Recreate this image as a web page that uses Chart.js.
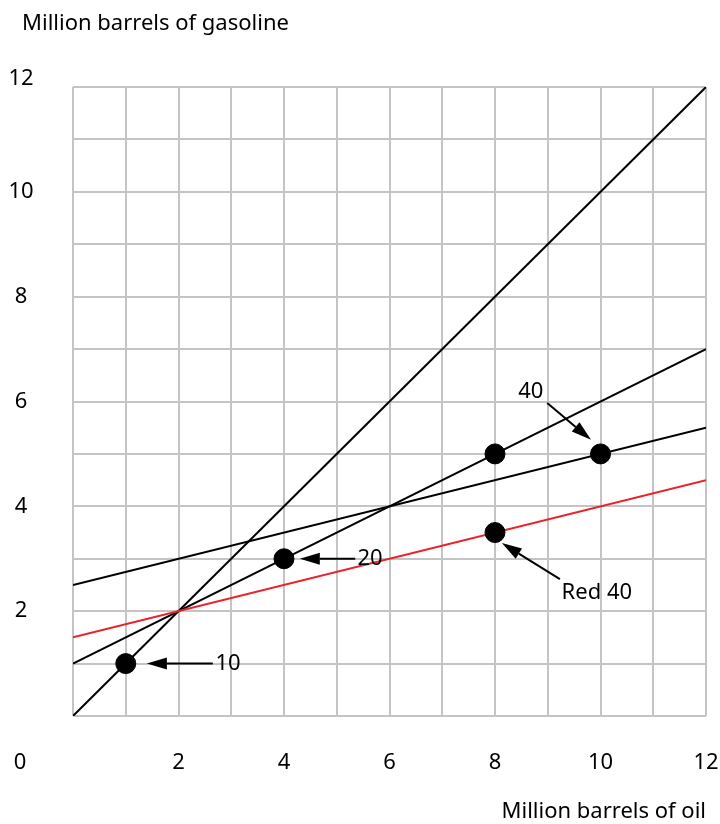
<!DOCTYPE html>
<html>
<head>
<meta charset="utf-8">
<script src="https://cdn.jsdelivr.net/npm/chart.js@4"></script>
<style>
  html, body { margin: 0; padding: 0; background: #fff; }
  #wrap { width: 720px; height: 824px; position: relative; }
</style>
</head>
<body>
<div id="wrap"><canvas id="chart" width="720" height="824"></canvas></div>
<script>
// line end points (x = 0 and x = 12)
const lineX = [0, 12];
const lineDiagonal = [0, 12];
const lineSteep = [1, 7];
const lineFlat = [2.5, 5.5];
const lineRed = [1.5, 4.5];

// marked points
const pointX = [1, 4, 8, 10, 8];
const pointY = [1, 3, 5, 5, 3.5];

// tick labels
const xTickLabels = [2, 4, 6, 8, 10, 12];
const yTickLabels = [2, 4, 6, 8, 10, 12];

// annotations: label, label position, arrow tail, arrow tip (data units)
const noteText = ['10', '20', '40', 'Red 40'];
const noteLabelX = [2.94, 5.63, 8.68, 9.93];
const noteLabelY = [1, 3, 6.18, 2.35];
const noteTailX = [2.65, 5.35, 8.99, 9.23];
const noteTailY = [1, 3, 5.97, 2.61];
const noteTipX = [1.40, 4.30, 9.82, 8.13];
const noteTipY = [1, 3, 5.27, 3.30];

const FONT = '22px "Noto Sans", "Open Sans", sans-serif';

function toXY(ys) {
    return lineX.map((x, i) => ({ x: x, y: ys[i] }));
}

const labelsPlugin = {
    id: 'labels',
    afterDraw(chart) {
        const ctx = chart.ctx;
        const xs = chart.scales.x;
        const ys = chart.scales.y;
        ctx.save();
        ctx.fillStyle = '#000';
        ctx.font = FONT;
        ctx.textBaseline = 'middle';

        // tick labels
        ctx.textAlign = 'center';
        yTickLabels.forEach(v => {
            ctx.fillText(String(v), 21, ys.getPixelForValue(v) - (v === 12 ? 8 : 0));
        });
        xTickLabels.forEach(v => {
            ctx.fillText(String(v), xs.getPixelForValue(v), 763);
        });
        ctx.fillText('0', 20, 763);

        // axis titles
        ctx.textAlign = 'left';
        ctx.fillText('Million barrels of gasoline', 22, 24);
        ctx.textAlign = 'right';
        ctx.fillText('Million barrels of oil', 706, 812);

        // arrows and notes
        ctx.strokeStyle = '#000';
        ctx.lineWidth = 2;
        noteText.forEach((t, i) => {
            const x0 = xs.getPixelForValue(noteTailX[i]);
            const y0 = ys.getPixelForValue(noteTailY[i]);
            const x1 = xs.getPixelForValue(noteTipX[i]);
            const y1 = ys.getPixelForValue(noteTipY[i]);
            const ang = Math.atan2(y1 - y0, x1 - x0);
            const headLen = 20, headW = 6;
            const bx = x1 - headLen * Math.cos(ang);
            const by = y1 - headLen * Math.sin(ang);
            ctx.beginPath();
            ctx.moveTo(x0, y0);
            ctx.lineTo(bx, by);
            ctx.stroke();
            ctx.beginPath();
            ctx.moveTo(x1, y1);
            ctx.lineTo(bx + headW * Math.sin(ang), by - headW * Math.cos(ang));
            ctx.lineTo(bx - headW * Math.sin(ang), by + headW * Math.cos(ang));
            ctx.closePath();
            ctx.fill();

            ctx.textAlign = 'center';
            ctx.fillText(t, xs.getPixelForValue(noteLabelX[i]), ys.getPixelForValue(noteLabelY[i]));
        });
        ctx.restore();
    }
};

new Chart(document.getElementById('chart').getContext('2d'), {
    type: 'scatter',
    data: {
        datasets: [
            {
                label: 'Points',
                data: pointX.map((x, i) => ({ x: x, y: pointY[i] })),
                backgroundColor: '#000',
                borderColor: '#000',
                pointRadius: 10,
                showLine: false
            },
            {
                label: 'Red',
                data: toXY(lineRed),
                borderColor: '#e8232b',
                borderWidth: 2,
                pointRadius: 0,
                showLine: true
            },
            {
                label: 'Flat',
                data: toXY(lineFlat),
                borderColor: '#000',
                borderWidth: 2,
                pointRadius: 0,
                showLine: true
            },
            {
                label: 'Steep',
                data: toXY(lineSteep),
                borderColor: '#000',
                borderWidth: 2,
                pointRadius: 0,
                showLine: true
            },
            {
                label: 'Diagonal',
                data: toXY(lineDiagonal),
                borderColor: '#000',
                borderWidth: 2,
                pointRadius: 0,
                showLine: true
            }
        ]
    },
    options: {
        responsive: false,
        animation: false,
        events: [],
        layout: {
            padding: { left: 73, right: 14, top: 87, bottom: 108 }
        },
        plugins: {
            legend: { display: false },
            tooltip: { enabled: false }
        },
        scales: {
            x: {
                type: 'linear',
                min: 0,
                max: 12,
                ticks: { display: false, stepSize: 1 },
                grid: { color: '#c4c4c4', lineWidth: 2, drawTicks: false },
                border: { display: false }
            },
            y: {
                type: 'linear',
                min: 0,
                max: 12,
                ticks: { display: false, stepSize: 1 },
                grid: { color: '#c4c4c4', lineWidth: 2, drawTicks: false },
                border: { display: false }
            }
        }
    },
    plugins: [labelsPlugin]
});
</script>
</body>
</html>
